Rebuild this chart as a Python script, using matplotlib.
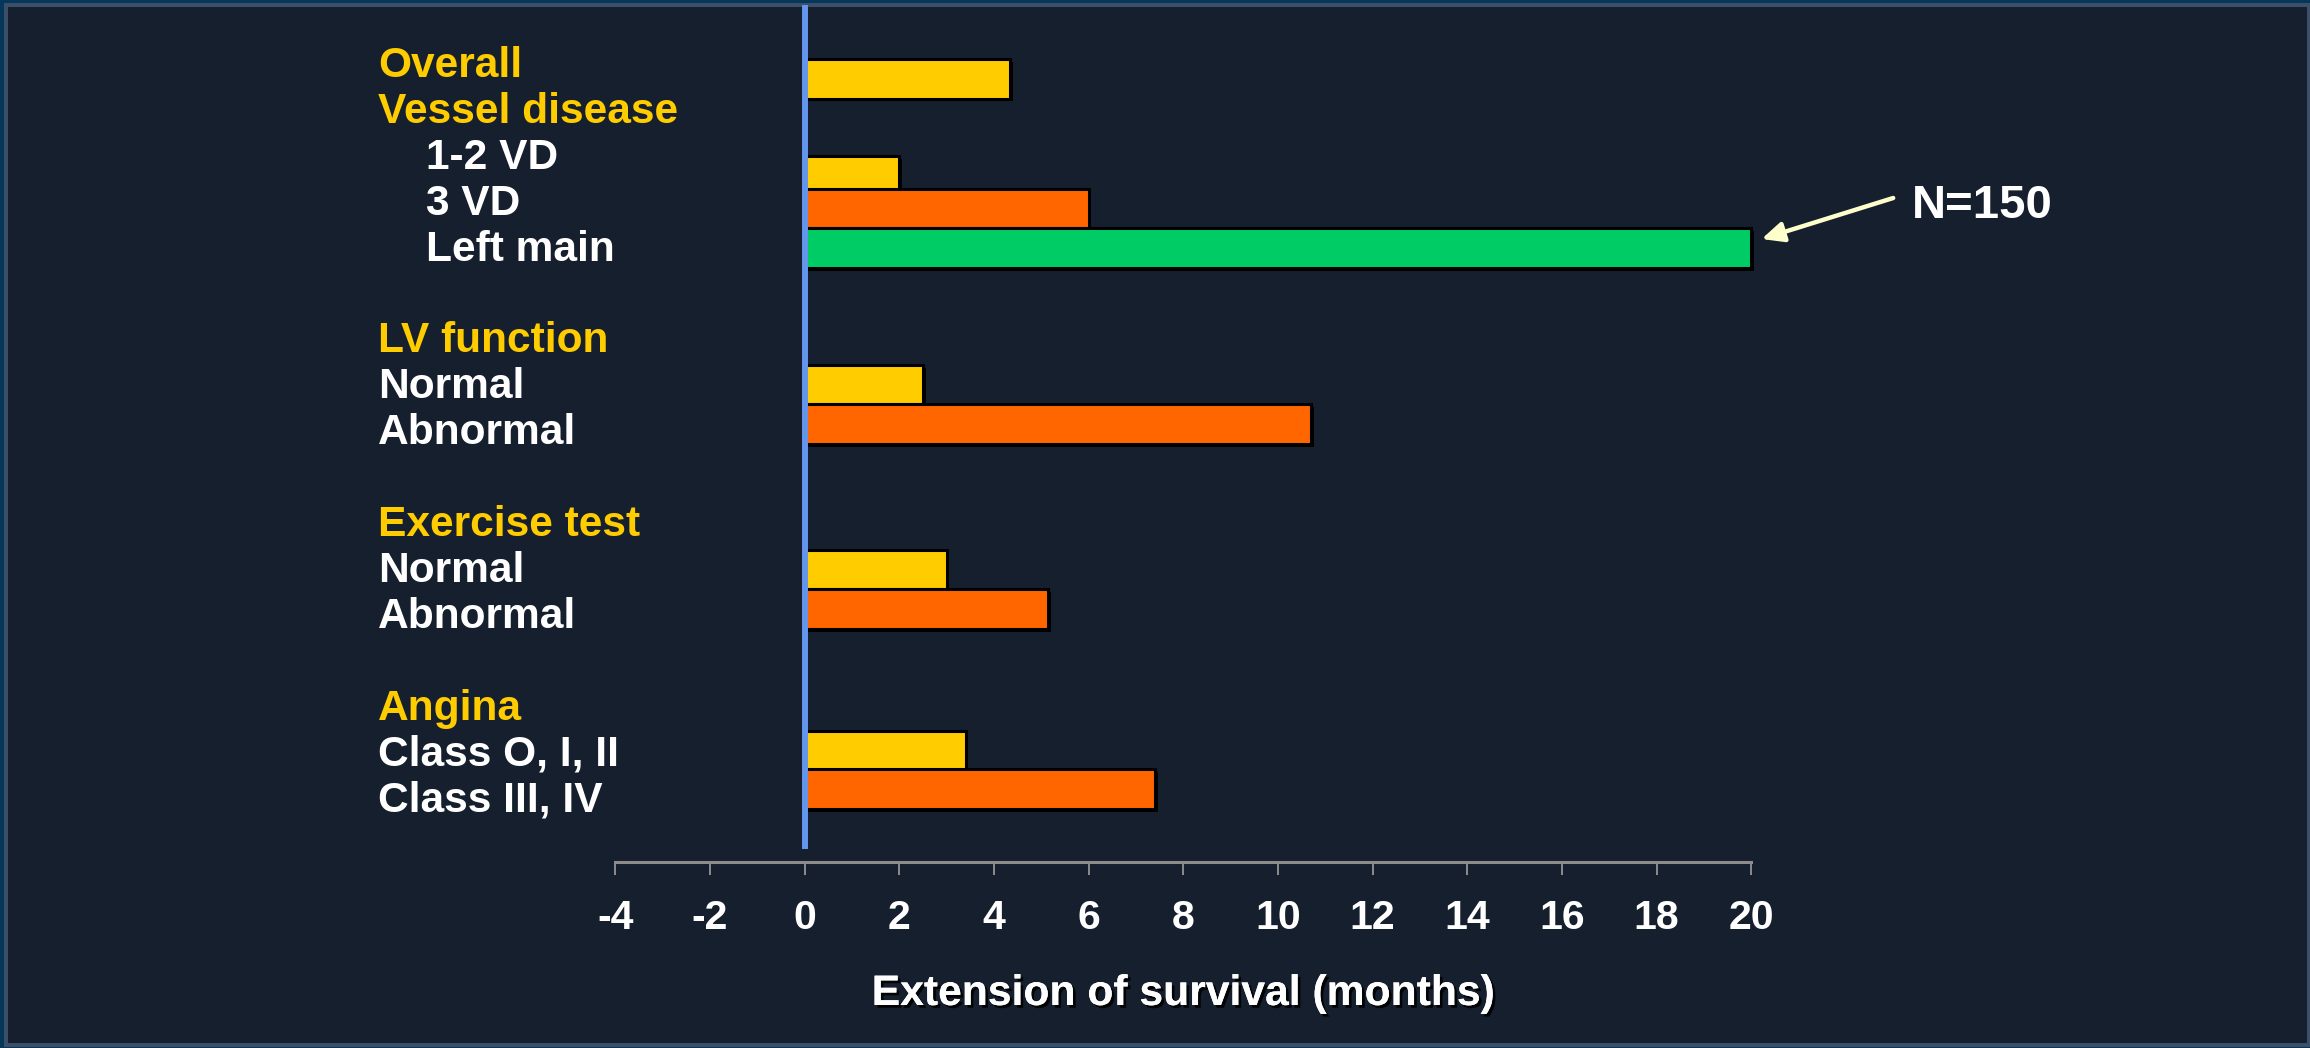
import matplotlib
matplotlib.use("Agg")
import matplotlib.pyplot as plt
import matplotlib.patheffects as pe
from matplotlib.patches import Rectangle

# Data (months of survival gained)
bar_names = ["Overall", "1-2 VD", "3 VD", "Left main",
             "LV normal", "LV abnormal",
             "Exercise normal", "Exercise abnormal",
             "Angina class O-II", "Angina class III-IV"]
extension = [4.35, 2.0, 6.0, 20.0, 2.5, 10.7, 3.0, 5.15, 3.4, 7.4]

# Row labels on the left (heading lines in yellow, indented lines are sub-items)
label_text = ["Overall", "Vessel disease", "1-2 VD", "3 VD", "Left main",
              "LV function", "Normal", "Abnormal",
              "Exercise test", "Normal", "Abnormal",
              "Angina", "Class O, I, II", "Class III, IV"]
label_heading = [True, True, False, False, False,
                 True, False, False,
                 True, False, False,
                 True, False, False]
label_indent = [False, False, True, True, True,
                False, False, False,
                False, False, False,
                False, False, False]
label_line = [0, 1, 2, 3, 4, 6, 7, 8, 10, 11, 12, 14, 15, 16]

xticks = list(range(-4, 21, 2))
annot_text = "N=150"

# styling / layout
YELLOW = "#FFCC00"
ORANGE = "#FF6600"
GREEN = "#00CC66"
BG = "#161F2E"
bar_colors = [YELLOW, YELLOW, ORANGE, GREEN, YELLOW, ORANGE, YELLOW, ORANGE, YELLOW, ORANGE]
bar_rows = [78.8, 176, 208.5, 248, 384.5, 424, 569.5, 609, 750.5, 789]  # pixel rows
bar_h = 39.5

W, H = 2310, 1048
x0_px, unit_px = 804.6, 47.33  # x pixel of value 0, pixels per month

fig = plt.figure(figsize=(W / 100, H / 100), dpi=100)
fig.patch.set_facecolor("#06375A")


def px_rect(x, y, w, h, color):
    r = Rectangle((x / W, 1 - (y + h) / H), w / W, h / H, transform=fig.transFigure,
                  facecolor=color, edgecolor="none", zorder=-10)
    fig.patches.append(r)


px_rect(4, 3, W - 4, 1044, "#3B5068")
px_rect(8, 7, 2299, 1036, BG)

ax = fig.add_axes([0, 0, 1, 1])
ax.set_facecolor("none")
ax.set_xlim(-x0_px / unit_px, (W - x0_px) / unit_px)
ax.set_ylim(H, 0)

ax.barh(bar_rows, extension, height=bar_h, color=bar_colors, edgecolor="black",
        linewidth=2.2, zorder=3,
        path_effects=[pe.withSimplePatchShadow(offset=(2, -2), shadow_rgbFace="black", alpha=1)])

# zero line
ax.vlines(0, 5, 849, color="#6495ED", linewidth=4.3, zorder=4)

# x axis
for s in ["top", "left", "right"]:
    ax.spines[s].set_visible(False)
ax.spines["bottom"].set_position(("data", 862))
ax.spines["bottom"].set_bounds(-4, 20)
ax.spines["bottom"].set_color("#8C8C8C")
ax.spines["bottom"].set_linewidth(2.2)
ax.set_xticks(xticks)
ax.set_xticklabels([str(t) for t in xticks])
ax.tick_params(axis="x", direction="out", length=9.4, width=1.4, color="#8C8C8C",
               pad=17, labelsize=29.5, labelcolor="white")
for lab in ax.get_xticklabels():
    lab.set_fontfamily("Liberation Sans")
    lab.set_fontweight("bold")
ax.set_yticks([])

ax.text(8, 1005, "Extension of survival (months)", ha="center", va="baseline",
        fontsize=30.7, fontweight="bold", color="white", family="Liberation Sans",
        path_effects=[pe.withSimplePatchShadow(offset=(2, -2), shadow_rgbFace="black", alpha=0.9),
                      pe.Normal()])

# left labels
for txt, head, ind, ln in zip(label_text, label_heading, label_indent, label_line):
    xp = 426 if ind else 378
    yb = 62 + 45.9 * ln + 15
    ax.text((xp - x0_px) / unit_px, yb, txt, ha="left", va="baseline",
            fontsize=30.6, fontweight="bold", family="Liberation Sans",
            color=YELLOW if head else "white")

# arrow to the left main bar
lm = extension[3]
ax.annotate("", xy=(lm + 0.22, 239), xytext=(lm + 3.0, 198),
            arrowprops=dict(arrowstyle="-|>,head_length=1.3,head_width=0.6",
                            color="#FFFFCC", lw=3.2, shrinkA=0, shrinkB=0))
ax.text(lm + 3.4, 218, annot_text, ha="left", va="baseline", fontsize=34,
        fontweight="bold", color="white", family="Liberation Sans")

fig.savefig("out.png", dpi=100, facecolor=fig.get_facecolor())
